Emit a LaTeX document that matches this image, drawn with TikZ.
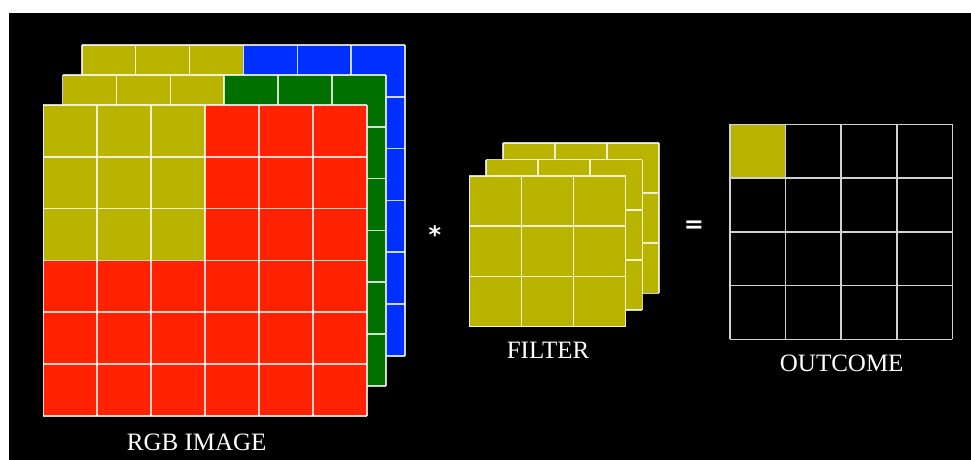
\documentclass[tikz,border=0pt]{standalone}
\usepackage{fontspec}
\setmainfont{Liberation Serif}
\newfontfamily\symfont{DejaVu Sans}
\usetikzlibrary{positioning}
\definecolor{imgyellow}{HTML}{B8B400}
\definecolor{imgred}{HTML}{FF2200}
\definecolor{imggreen}{HTML}{007000}
\definecolor{imgblue}{HTML}{0030FF}
\tikzset{
  gridline/.style={draw=white, draw opacity=0.8, line width=1.6pt},
  outline/.style={draw=white!82!black, line width=1.6pt},
  labeltext/.style={text=white, font=\fontsize{25}{30}\selectfont, inner sep=0pt},
  opsign/.style={text=white, font=\symfont\bfseries\fontsize{24}{28}\selectfont, inner sep=0pt}
}
% one layer of cells: x, y, columns, rows, cell width, cell height
\newcommand{\celllayer}[6]{%
  \begin{scope}[shift={(#1,#2)}]
    \foreach \i in {0,...,#3} \draw[gridline] (\i*#5,0) -- (\i*#5,#4*#6);
    \foreach \j in {0,...,#4} \draw[gridline] (0,\j*#6) -- (#3*#5,\j*#6);
  \end{scope}}
% one channel of the image: x, y, colour
\newcommand{\rgblayer}[3]{%
  \fill[#3] (#1,#2) rectangle +(323.4,310.7);
  \fill[imgyellow] (#1,#2) rectangle +(161.7,155.4);
  \celllayer{#1}{#2}{6}{6}{53.9}{51.8}}
% one slice of the filter: x, y
\newcommand{\filterlayer}[2]{%
  \fill[imgyellow] (#1,#2) rectangle +(156.3,150.7);
  \celllayer{#1}{#2}{3}{3}{52.1}{50.2}}

\begin{document}
\begin{tikzpicture}[x=1pt,y=-1pt]
  \fill[white] (0,0) rectangle (971,460);
  \fill[black] (9,13) rectangle (971,460);
  \useasboundingbox (0,0) rectangle (971,460);

  % RGB image, back to front
  \rgblayer{81.7}{45}{imgblue}
  \rgblayer{62.5}{75}{imggreen}
  \rgblayer{43.3}{105}{imgred}
  \node[labeltext] (rgblabel) at (196.7,442.7) {RGB IMAGE};

  \node[opsign] (conv) at (435,235) {*};

  % filter
  \filterlayer{502.7}{142.7}
  \filterlayer{486}{159.5}
  \filterlayer{469.3}{176}
  \node[labeltext] (filterlabel) at (548,350) {FILTER};

  \node[opsign] (eq) at (694,227) {=};

  % outcome
  \fill[imgyellow] (730,124.3) rectangle +(55.6,53.75);
  \begin{scope}[shift={(730,124.3)}]
    \foreach \i in {0,...,4} \draw[outline] (\i*55.6,0) -- (\i*55.6,215);
    \foreach \j in {0,...,4} \draw[outline] (0,\j*53.75) -- (222.4,\j*53.75);
  \end{scope}
  \node[labeltext] (outlabel) at (841.7,363.3) {OUTCOME};
\end{tikzpicture}
\end{document}
